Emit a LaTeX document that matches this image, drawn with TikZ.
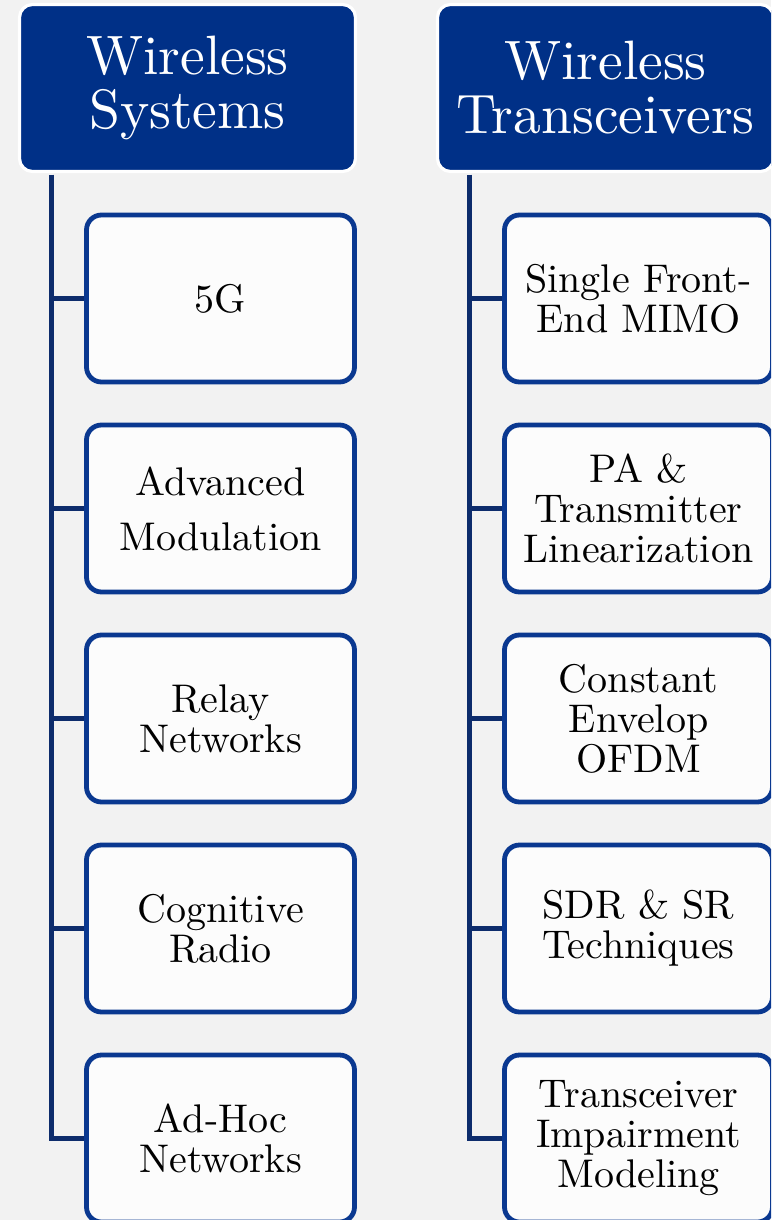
\documentclass[tikz,border=0pt]{standalone}
\usepackage{fontspec}
\setmainfont{lmroman10-regular.otf}
\usetikzlibrary{calc}
\definecolor{bgGray}{HTML}{F2F2F2}
\definecolor{hdrBlue}{HTML}{003087}
\definecolor{boxBlue}{HTML}{0A3890}
\definecolor{trunkBlue}{HTML}{0D2C6C}
\definecolor{boxFill}{HTML}{FCFCFC}
\begin{document}
\begin{tikzpicture}[x=1pt,y=-1pt,
  header/.style={draw=white, line width=3.2pt, fill=hdrBlue, rounded corners=13pt,
    minimum width=336pt, minimum height=167pt, inner sep=0pt,
    text=white, align=center, font=\fontsize{55.5}{54}\selectfont},
  item/.style={draw=boxBlue, line width=4.8pt, fill=boxFill, rounded corners=15pt,
    minimum width=268pt, minimum height=167pt, inner sep=0pt,
    align=center, font=\fontsize{40}{40}\selectfont},
  trunk/.style={draw=trunkBlue, line width=4.3pt}]
  % page area and background
  \useasboundingbox (0,0) rectangle (771,1220);
  \clip (0,0) rectangle (771,1220);
  \fill[bgGray] (0,0) rectangle (771,1220);

  % column headers
  \node[header] (hs) at (187.5,88) {Wireless\\Systems};
  \node[header] (ht) at (605.5,88) {Wireless\\Transceivers};

  % left column items
  \node[item] (l1) at (220.5,298.5) {5G};
  \node[item] (l2) at (220.5,508.5) {Advanced\\[15pt]Modulation};
  \node[item] (l3) at (220.5,718.5) {Relay\\Networks};
  \node[item] (l4) at (220.5,928.5) {Cognitive\\Radio};
  \node[item] (l5) at (220.5,1138.5) {Ad-Hoc\\Networks};

  % right column items
  \node[item] (r1) at (638.5,298.5) {Single Front-\\End MIMO};
  \node[item] (r2) at (638.5,508.5) {PA \&\\Transmitter\\Linearization};
  \node[item] (r3) at (638.5,718.5) {Constant\\Envelop\\OFDM};
  \node[item] (r4) at (638.5,928.5) {SDR \& SR\\Techniques};
  \node[item] (r5) at (638.5,1138.5) {Transceiver\\Impairment\\Modeling};

  % trunks hanging below each header
  \coordinate (lt) at ($(hs.south west)+(33.5,1.6)$);
  \coordinate (rt) at ($(ht.south west)+(33.5,1.6)$);
  \draw[trunk] (lt) |- (l5.west);
  \draw[trunk] (rt) |- (r5.west);
  \foreach \n in {1,2,3,4}{
    \draw[trunk] (lt |- l\n.west) -- (l\n.west);
    \draw[trunk] (rt |- r\n.west) -- (r\n.west);
  }
\end{tikzpicture}
\end{document}
